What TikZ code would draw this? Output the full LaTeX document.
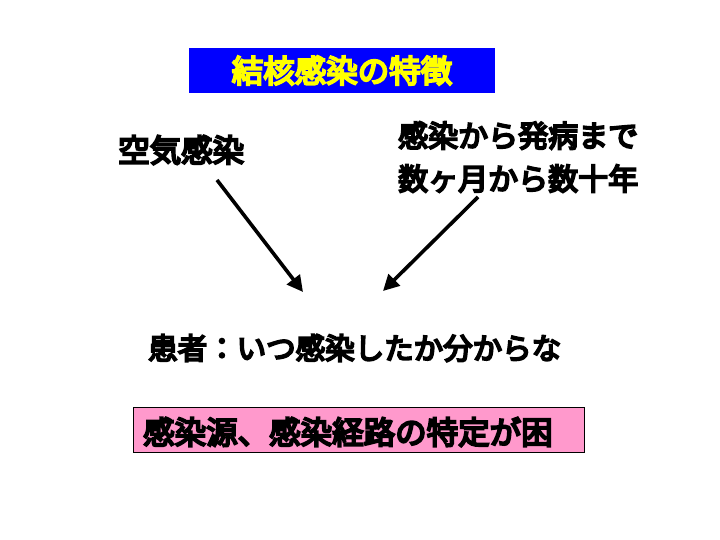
\documentclass[tikz,border=0pt]{standalone}
\usepackage{fontspec}
\newfontfamily\cjk[FakeBold=6.5]{Noto Sans CJK JP}
\definecolor{titleblue}{RGB}{0,0,255}
\definecolor{titleyellow}{RGB}{255,255,0}
\definecolor{boxpink}{RGB}{255,153,204}
\usetikzlibrary{arrows.meta}
\tikzset{
  txt/.style={font=\cjk\fontsize{30}{43}\selectfont, inner sep=0pt, anchor=west, align=left},
  arr/.style={line width=3.6pt, -{Triangle[length=16pt,width=16pt]}}
}
\begin{document}
\begin{tikzpicture}[x=1pt,y=1pt]
\useasboundingbox (0,0) rectangle (720,540);
\fill[white] (0,0) rectangle (720,540);
% title
\node[fill=titleblue, minimum width=306pt, minimum height=45pt, inner sep=0pt,
      text=titleyellow, font=\cjk\fontsize{31.5}{36}\selectfont] (title) at (342,469.5) {結核感染の特徴};
% left text
\node[txt, font=\cjk\fontsize{31.5}{36}\selectfont] (air) at (118,390) {空気感染};
% right text
\node[txt] (time) at (398,383) {感染から発病まで\\数ヶ月から数十年};
% middle
\node[txt, font=\cjk\fontsize{29.5}{36}\selectfont] (patient) at (148,192) {患者：いつ感染したか分からな};
% pink box
\node[draw=black, line width=0.6pt, fill=boxpink, minimum width=451pt, minimum height=45pt,
      inner sep=0pt] (source) at (358.5,110.5) {};
\node[txt, font=\cjk\fontsize{31.5}{36}\selectfont] (sourcetxt) at (143,108) {感染源、感染経路の特定が困};
% arrows
\coordinate (a1s) at (217,360);
\coordinate (a1e) at (303,248);
\coordinate (a2s) at (478,343);
\coordinate (a2e) at (383,249);
\draw[arr] (a1s) -- (a1e);
\draw[arr] (a2s) -- (a2e);
\end{tikzpicture}
\end{document}
